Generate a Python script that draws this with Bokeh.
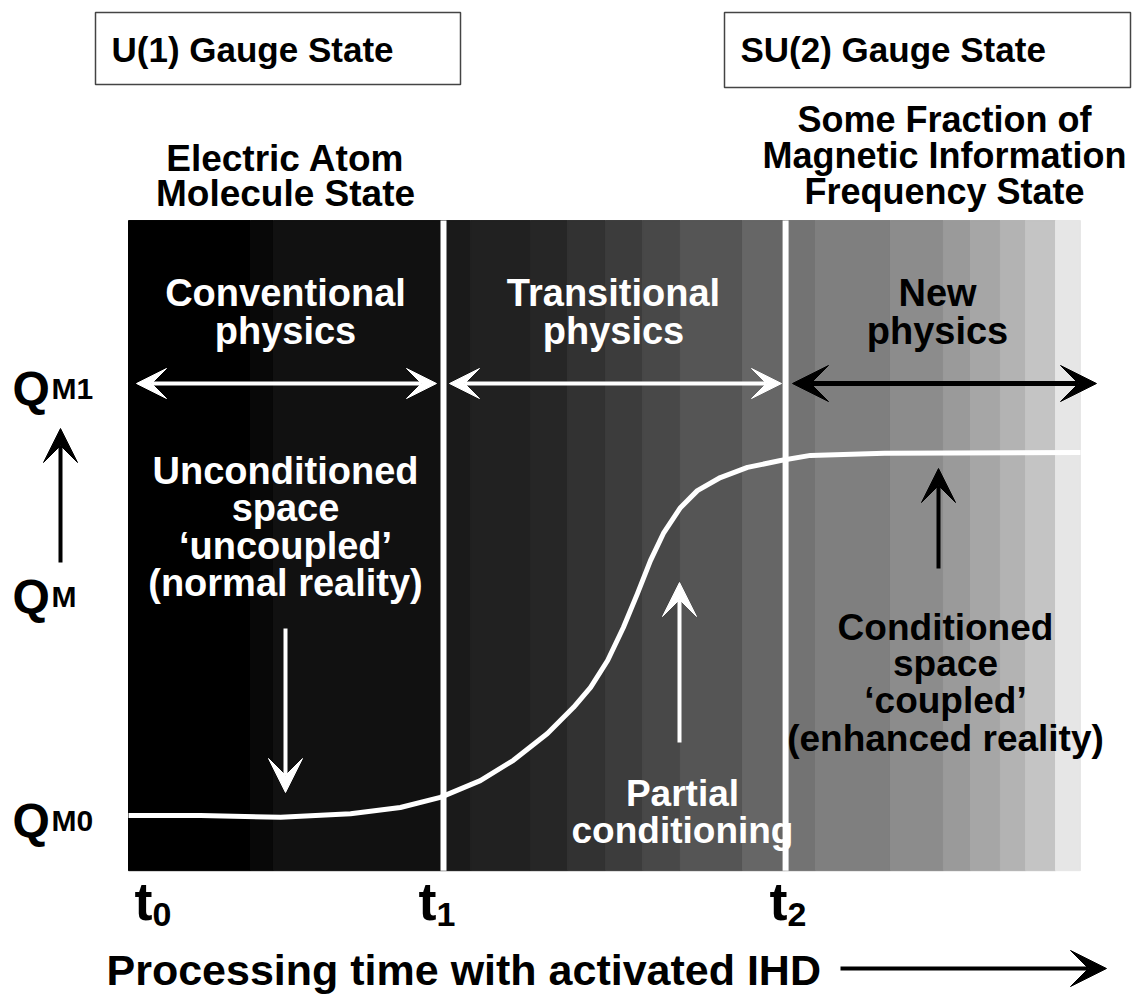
from bokeh.plotting import figure
from bokeh.models import Range1d, Arrow, VeeHead
from bokeh.core.properties import value
from bokeh.embed import file_html
from bokeh.resources import INLINE

# ---------------- data (time in t-units, quality Q normalised: QM0=0, plateau=1) -------------
t_ticks = [0.0, 1.0, 2.086]
t_tick_subs = ["0", "1", "2"]
t_end = 3.022

band_left = [0.0, 0.387, 0.460,
             1.0, 1.086, 1.276, 1.394, 1.514, 1.632, 1.752, 1.949,
             2.086, 2.181, 2.419, 2.587, 2.673, 2.768, 2.848, 2.943]
band_right = band_left[1:] + [t_end]
band_color = ["#000000", "#080808", "#111111",
              "#1a1a1a", "#212121", "#262626", "#323232", "#3c3c3c", "#484848", "#555555", "#666666",
              "#737373", "#7f7f7f", "#8c8c8c", "#9a9a9a", "#a6a6a6", "#b3b3b3", "#c4c4c4", "#e6e6e6"]
band_top, band_bottom = 1.639, -0.152

curve_t = [0.0, 0.229, 0.483, 0.705, 0.863, 0.990, 1.117, 1.222, 1.330, 1.413, 1.467,
           1.521, 1.571, 1.616, 1.657, 1.698, 1.752, 1.806, 1.879, 1.965, 2.070, 2.165,
           2.400, 3.022]
curve_q = [0.0, 0.0, -0.005, 0.005, 0.022, 0.050, 0.096, 0.152, 0.226, 0.298, 0.353,
           0.427, 0.518, 0.612, 0.702, 0.777, 0.848, 0.895, 0.931, 0.959, 0.978, 0.992,
           0.998, 1.0]

q_levels = [0.0, 0.617, 1.190]
q_subs = ["M0", "M", "M1"]

# ---------------- layout helpers (reference pixel -> data units) ----------------
PX0, PXU = 128, 315
PY0, PYU = 815, 363
def X(px): return (px - PX0) / PXU
def Y(py): return (PY0 - py) / PYU

W, H = 1136, 1000
p = figure(width=W, height=H, output_backend="svg", toolbar_location=None,
           x_range=Range1d(X(0), X(W)), y_range=Range1d(Y(H), Y(0)),
           x_axis_location=None, y_axis_location=None, min_border=0)
p.grid.visible = False
p.outline_line_color = None
p.background_fill_color = "white"
p.border_fill_color = "white"

FONT = value("Liberation Sans")
def txt(xs, ys, texts, color, size, align="center", baseline="middle"):
    p.text(x=xs, y=ys, text=texts, text_color=color, text_font=FONT,
           text_font_style="bold", text_font_size=f"{size}px",
           text_align=align, text_baseline=baseline)

def arrow(x0, y0, x1, y1, color, lw, size, both=False):
    def head():
        return VeeHead(size=size, fill_color=color, line_color=color, line_width=1)
    p.add_layout(Arrow(end=head(), start=head() if both else None,
                       x_start=x0, y_start=y0, x_end=x1, y_end=y1,
                       line_color=color, line_width=lw))

# bands
p.quad(left=band_left, right=band_right, top=band_top, bottom=band_bottom,
       fill_color=band_color, line_color=band_color, line_width=1)
# separators at t1, t2
p.segment(x0=t_ticks[1:], x1=t_ticks[1:], y0=band_bottom, y1=band_top,
          line_color="white", line_width=6)
# curve
p.line(curve_t, curve_q, line_color="white", line_width=5, line_join="round")

# gauge boxes
p.quad(left=[X(95), X(724)], right=[X(460), X(1130)], top=[Y(12), Y(12)],
       bottom=[Y(84), Y(87)], fill_color=None, line_color="#444444", line_width=1.5)
txt([X(111), X(740)], [Y(49), Y(49)], ["U(1) Gauge State", "SU(2) Gauge State"],
    "black", 35, align="left")

# headers
txt([X(285)] * 2, [Y(158), Y(193)], ["Electric Atom", "Molecule State"], "black", 37)
txt([X(944)] * 3, [Y(119), Y(155), Y(191)],
    ["Some Fraction of", "Magnetic Information", "Frequency State"], "black", 36)

# in-plot labels
txt([X(285)] * 2, [Y(292), Y(330)], ["Conventional", "physics"], "white", 38)
txt([X(613)] * 2, [Y(292), Y(330)], ["Transitional", "physics"], "white", 38)
txt([X(937)] * 2, [Y(292), Y(330)], ["New", "physics"], "black", 38)
txt([X(285)] * 4, [Y(470), Y(507), Y(545), Y(582)],
    ["Unconditioned", "space", "\u2018uncoupled\u2019", "(normal reality)"], "white", 38)
txt([X(682)] * 2, [Y(793), Y(830)], ["Partial", "conditioning"], "white", 37)
txt([X(945)] * 4, [Y(627), Y(663), Y(700), Y(738)],
    ["Conditioned", "space", "\u2018coupled\u2019", "(enhanced reality)"], "black", 37)

# arrows
arrow(X(136), Y(383), X(436), Y(383), "white", 4, 30, both=True)
arrow(X(449), Y(383), X(781), Y(383), "white", 4, 30, both=True)
arrow(X(792), Y(383), X(1096), Y(383), "black", 5, 36, both=True)
arrow(X(285), Y(628), X(285), Y(792), "white", 4, 34)
arrow(X(679), Y(742), X(679), Y(582), "white", 4, 34)
arrow(X(938), Y(568), X(938), Y(468), "black", 4, 34)
arrow(X(60), Y(562), X(60), Y(428), "black", 4, 34)
arrow(X(840), Y(968), X(1106), Y(968), "black", 4, 36)

# Q labels
q_base = [q - 5 / PYU for q in q_levels]
txt([X(12)] * 3, q_base, ["Q"] * 3, "black", 48, align="left", baseline="alphabetic")
txt([X(51)] * 3, q_base, q_subs, "black", 30, align="left", baseline="alphabetic")

# t labels
t_anchor_px = [152, 436, 787]
txt([X(px) for px in t_anchor_px], [Y(900)] * 3, ["t"] * 3, "black", 54,
    align="right", baseline="alphabetic")
txt([X(px) for px in t_anchor_px], [Y(914)] * 3, t_tick_subs, "black", 34,
    align="left", baseline="alphabetic")

# x axis caption
txt([X(106)], [Y(969)], ["Processing time with activated IHD"], "black", 43, align="left")

open("out.html", "w").write(file_html(p, INLINE))
